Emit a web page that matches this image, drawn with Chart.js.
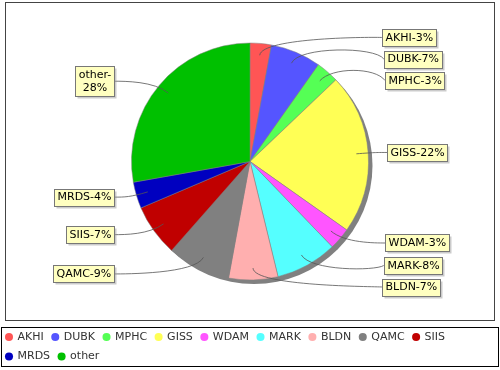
<!DOCTYPE html>
<html>
<head>
<meta charset="utf-8">
<script src="https://cdn.jsdelivr.net/npm/chart.js@4.4.1/dist/chart.umd.min.js"></script>
<style>
  html, body { margin: 0; padding: 0; background: #fff; overflow: hidden; }
</style>
</head>
<body>
<canvas id="myChart" width="500" height="370"></canvas>
<script>
"use strict";
// slice names and their share (in %)
const categories = ["AKHI", "DUBK", "MPHC", "GISS", "WDAM", "MARK", "BLDN", "QAMC", "SIIS", "MRDS", "other"];
const shares = [2.9, 6.9, 3.1, 21.9, 3.0, 8.4, 6.7, 8.6, 7.1, 3.6, 27.8];
const sliceColors = ['#ff5555', '#5555ff', '#55ff55', '#ffff55', '#ff55ff', '#55ffff',
                     '#ffafaf', '#808080', '#c00000', '#0000c0', '#00c000'];

const LABEL_FONT = '11px "DejaVu Sans"';

// shadow under the pie, frames, and the boxed labels with their curved links
const pieExtras = {
  id: 'pieExtras',
  beforeDraw(chart) {
    const ctx = chart.ctx;
    const lg = chart.legend;
    ctx.save();
    ctx.fillStyle = '#fff';
    ctx.fillRect(0, 0, chart.width, chart.height);
    ctx.lineWidth = 1;
    ctx.strokeStyle = '#444';
    ctx.strokeRect(5.5, 2.5, chart.width - 11, lg.top - 5);
    ctx.strokeStyle = '#000';
    ctx.strokeRect(lg.left + 4, lg.top + 4.5, lg.width - 8, lg.height - 10);
    ctx.restore();
  },
  beforeDatasetsDraw(chart) {
    const arc = chart.getDatasetMeta(0).data[0];
    const ctx = chart.ctx;
    ctx.save();
    ctx.fillStyle = '#808080';
    ctx.beginPath();
    ctx.arc(arc.x + 4, arc.y + 4, arc.outerRadius, 0, Math.PI * 2);
    ctx.fill();
    ctx.restore();
  },
  afterDatasetsDraw(chart) {
    const ctx = chart.ctx;
    const arcs = chart.getDatasetMeta(0).data;
    const cx = arcs[0].x, cy = arcs[0].y, r = arcs[0].outerRadius;
    const rl = r * 1.055;
    const total = shares.reduce((a, b) => a + b, 0);
    const minY = cy - 132.5, maxY = cy + 134;
    const gap = 4.5;

    ctx.save();
    ctx.font = LABEL_FONT;
    const recs = arcs.map((arc, i) => {
      const mid = (arc.startAngle + arc.endAngle) / 2;
      const ux = Math.cos(mid), uy = Math.sin(mid);
      const right = ux >= 0;
      const text = categories[i] + '-' + Math.round(shares[i] / total * 100) + '%';
      let lines = [text];
      if (!right && ctx.measureText(text).width > 57) {
        const k = text.indexOf('-') + 1;
        lines = [text.slice(0, k), text.slice(k)];
      }
      const w = Math.max(...lines.map(s => ctx.measureText(s).width)) + 6;
      const h = lines.length * 13 + 4;
      const elbowY = cy + uy * rl;
      return {
        right, lines, w, h,
        linkX: cx + ux * r * 0.9, linkY: cy + uy * r * 0.9,
        elbowX: cx + ux * rl, elbowY,
        y: Math.min(Math.max(elbowY, minY + h / 2), maxY - h / 2)
      };
    });

    [true, false].forEach(side => {
      const list = recs.filter(d => d.right === side).sort((a, b) => a.y - b.y);
      for (let i = 0; i < list.length - 1; i++) {
        const a = list[i], b = list[i + 1];
        if (b.y - b.h / 2 < a.y + a.h / 2 + gap) {
          b.y = Math.min(maxY - b.h / 2, a.y + a.h / 2 + gap + b.h / 2);
        }
      }
      for (let i = list.length - 1; i > 0; i--) {
        const a = list[i], b = list[i - 1];
        if (b.y + b.h / 2 + gap > a.y - a.h / 2) {
          b.y = Math.max(minY + b.h / 2, a.y - a.h / 2 - gap - b.h / 2);
        }
      }
    });

    recs.forEach(d => {
      const dy = d.y - cy;
      if (d.right) {
        d.x0 = cx + 137 * Math.sqrt(1 - (dy / 480) * (dy / 480));
      } else {
        d.x0 = cx - 136 - d.w;
      }
      const tx = d.right ? d.x0 : d.x0 + d.w;
      const ax = d.right ? cx + rl : cx - rl;
      ctx.strokeStyle = '#555';
      ctx.lineWidth = 0.8;
      ctx.beginPath();
      ctx.moveTo(tx, d.y);
      ctx.bezierCurveTo(ax, d.elbowY, d.elbowX, d.elbowY, d.linkX, d.linkY);
      ctx.stroke();
    });

    recs.forEach(d => {
      const x = Math.round(d.x0) + 0.5;
      const y = Math.round(d.y - d.h / 2) + 0.5;
      const w = Math.round(d.w);
      ctx.fillStyle = 'rgba(151,151,151,0.5)';
      ctx.fillRect(x + 2, y + 2, w, d.h);
      ctx.fillStyle = '#ffffc0';
      ctx.fillRect(x, y, w, d.h);
      ctx.strokeStyle = '#777';
      ctx.lineWidth = 1;
      ctx.strokeRect(x, y, w, d.h);
      ctx.fillStyle = '#000';
      ctx.textBaseline = 'middle';
      if (d.lines.length === 1) {
        ctx.textAlign = 'left';
        ctx.fillText(d.lines[0], x + 3, d.y + 0.5);
      } else {
        ctx.textAlign = 'center';
        d.lines.forEach((s, k) => {
          ctx.fillText(s, x + w / 2, d.y + (k - (d.lines.length - 1) / 2) * 13 + 0.5);
        });
      }
    });
    ctx.restore();
  }
};

const baseLabels = (Chart.overrides.pie || Chart.overrides.doughnut).plugins.legend.labels.generateLabels;

let myChart = document.getElementById("myChart").getContext('2d');
let pieChart = new Chart(myChart, {
  type: 'pie',
  data: {
    labels: categories,
    datasets: [{
      data: shares,
      backgroundColor: sliceColors,
      borderColor: '#808080',
      borderWidth: 0.5,
      radius: 118.5
    }]
  },
  options: {
    responsive: false,
    animation: false,
    events: [],
    layout: { padding: { top: 0, bottom: -2, left: -2.5, right: -2.5 } },
    plugins: {
      tooltip: { enabled: false },
      legend: {
        position: 'bottom',
        align: 'start',
        labels: {
          usePointStyle: true,
          pointStyle: 'circle',
          boxWidth: 6,
          boxHeight: 5.7,
          padding: 8.5,
          color: '#333',
          font: { family: 'DejaVu Sans', size: 11 },
          generateLabels(chart) {
            const items = baseLabels(chart);
            items.forEach(it => { it.strokeStyle = it.fillStyle; it.lineWidth = 0; });
            return items;
          }
        }
      }
    }
  },
  plugins: [pieExtras]
});
</script>
</body>
</html>
